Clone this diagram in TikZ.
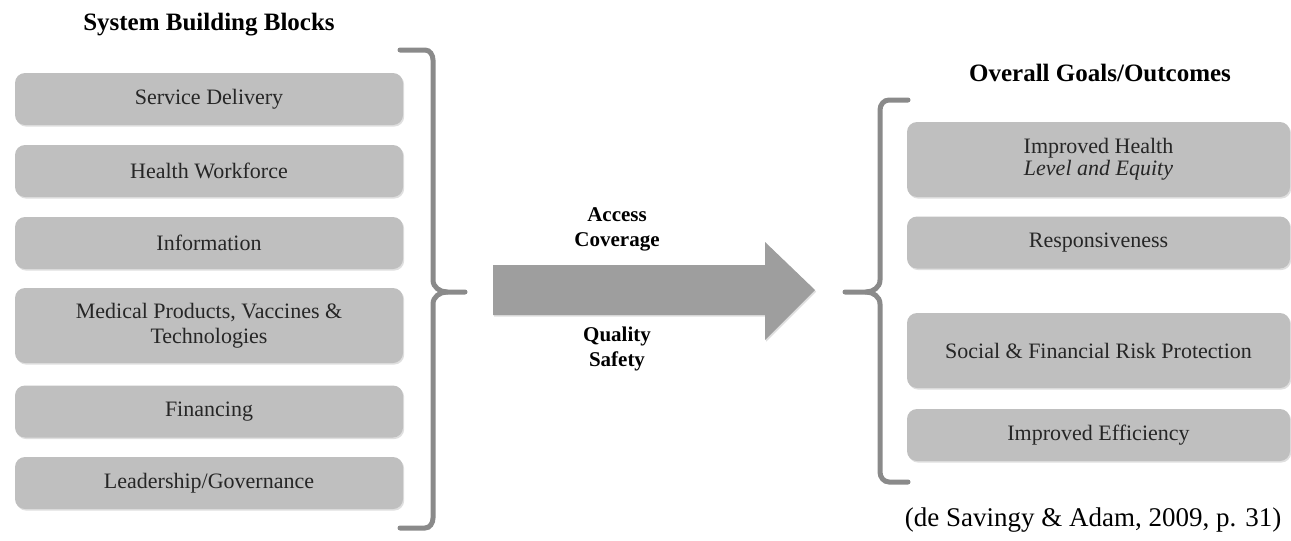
\documentclass[tikz,border=0pt]{standalone}
\usepackage{fontspec}
\setmainfont{Liberation Serif}
\usetikzlibrary{shadows}
\definecolor{blockgray}{HTML}{BFBFBF}
\definecolor{arrowgray}{HTML}{9E9E9E}
\definecolor{bracketgray}{HTML}{8A8A8A}

\begin{document}
\begin{tikzpicture}[x=0.5pt, y=-0.5pt,
  block/.style={rectangle, rounded corners=5pt, fill=blockgray, text=black!85,
    minimum width=194pt, minimum height=26pt, align=center,
    font=\fontsize{11}{12}\selectfont,
    drop shadow={shadow xshift=0.6pt, shadow yshift=-0.8pt, opacity=0.25}},
  tall/.style={minimum height=37.5pt},
  rblock/.style={block, minimum width=191.5pt},
  heading/.style={font=\fontsize{12.5}{14}\selectfont\bfseries},
  flowlabel/.style={align=center, font=\fontsize{10.5}{12.5}\selectfont\bfseries},
  bracket/.style={draw=bracketgray, line width=2.5pt, line cap=round}]
\useasboundingbox (0,0) rectangle (1291,541);

% building blocks
\draw (209,25) node(blocksTitle) [heading] {System Building Blocks};
\draw (209,99) node(service) [block] {Service Delivery};
\draw (209,171) node(workforce) [block] {Health Workforce};
\draw (209,243) node(information) [block] {Information};
\draw (209,325.5) node(products) [block, tall, font=\fontsize{11}{12.5}\selectfont] {Medical Products, Vaccines \&\\Technologies};
\draw (209,411.5) node(financing) [block] {Financing};
\draw (209,483) node(leadership) [block] {Leadership/Governance};

\draw[bracket] (400,50) -- (425,50) to[out=0,in=90] (433,60) -- (433,280)
  to[out=-90,in=180] (447,292) -- (465,292);
\draw[bracket] (447,292) to[out=180,in=90] (433,304) -- (433,518)
  to[out=-90,in=0] (425,528) -- (400,528);

% big arrow
\fill[arrowgray, drop shadow={shadow xshift=0.6pt, shadow yshift=-0.8pt, opacity=0.25}]
  (493,265) -- (765,265) -- (765,242) -- (815,290) -- (765,340) -- (765,315) -- (493,315) -- cycle;
\draw (617,229) node(access) [flowlabel] {Access\\Coverage};
\draw (617,349) node(quality) [flowlabel] {Quality\\Safety};

% goals
\draw[bracket] (908,100) -- (889,100) to[out=180,in=90] (880,110) -- (880,280)
  to[out=-90,in=0] (866,292) -- (845,292);
\draw[bracket] (866,292) to[out=0,in=90] (880,304) -- (880,472)
  to[out=-90,in=180] (889,482) -- (908,482);

\draw (1100,73) node(goalsTitle) [heading] {Overall Goals/Outcomes};
\draw (1098.5,159.5) node(health) [rblock, tall, font=\fontsize{11}{9.5}\selectfont] {Improved Health\\\textit{Level and Equity}};
\draw (1098.5,242.5) node(responsive) [rblock] {Responsiveness};
\draw (1098.5,350.5) node(protection) [rblock, tall] {Social \& Financial Risk Protection};
\draw (1098.5,435) node(efficiency) [rblock] {Improved Efficiency};

\draw (1093,520) node(source) [font=\fontsize{13.5}{15}\selectfont] {(de Savingy \& Adam, 2009, p. 31)};
\end{tikzpicture}
\end{document}
